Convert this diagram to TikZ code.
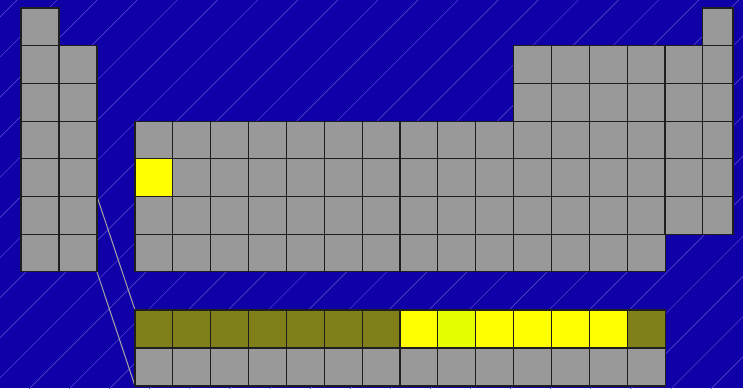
\documentclass[tikz,border=0pt]{standalone}
\definecolor{bg}{RGB}{16,0,168}
\definecolor{stripe}{RGB}{95,85,210}
\definecolor{cellgray}{RGB}{153,153,153}
\definecolor{olivecell}{RGB}{128,128,26}
\definecolor{limecell}{RGB}{229,255,0}
\definecolor{yellowcell}{RGB}{255,255,0}
\definecolor{edge}{RGB}{30,30,30}
\definecolor{guide}{RGB}{165,165,165}
\begin{document}
\begin{tikzpicture}[x=1pt,y=-1pt,
  cellbox/.style={fill=#1,draw=edge,line width=1.1pt},
  cellbox/.default=cellgray,
  stripeline/.style={draw=stripe,line width=0.45pt},
  guideline/.style={draw=guide,line width=1pt}]
\fill[bg] (0,0) rectangle (743,388);
\useasboundingbox (0,0) rectangle (743,388);
\begin{scope}
  \clip (0,0) rectangle (743,388);
  \foreach \k in {0,...,28} {
    \draw[stripeline] ({17+40.1*\k},0) -- ++(-420,420);
  }
\end{scope}
% guide lines
\coordinate (gA) at (97,196.5);
\coordinate (gB) at (97,271.9);
\coordinate (fA) at (135,310);
\coordinate (fB) at (135,386);
\draw[guideline] (gA) -- (fA);
\draw[guideline] (gB) -- (fB);
% left block
\foreach \j in {0,...,6} {
  \draw[cellbox] (21,{8+37.7*\j}) rectangle (59,{8+37.7*(\j+1)});
}
\foreach \j in {1,...,6} {
  \draw[cellbox] (59,{8+37.7*\j}) rectangle (97,{8+37.7*(\j+1)});
}
% main block rows 3-6, columns 0-13
\foreach \j in {3,...,6} {
  \foreach \i in {0,...,13} {
    \draw[cellbox] ({135+37.86*\i},{8+37.7*\j}) rectangle ({135+37.86*(\i+1)},{8+37.7*(\j+1)});
  }
}
% right block rows 1-2, columns 10-13
\foreach \j in {1,2} {
  \foreach \i in {10,...,13} {
    \draw[cellbox] ({135+37.86*\i},{8+37.7*\j}) rectangle ({135+37.86*(\i+1)},{8+37.7*(\j+1)});
  }
}
% column 14 rows 1-5
\foreach \j in {1,...,5} {
  \draw[cellbox] (665,{8+37.7*\j}) rectangle (702.9,{8+37.7*(\j+1)});
}
% last column rows 0-5
\foreach \j in {0,...,5} {
  \draw[cellbox] (702.9,{8+37.7*\j}) rectangle (733,{8+37.7*(\j+1)});
}
% highlighted cell
\draw[cellbox=yellowcell] (135,158.8) rectangle (172.86,196.5);
% f block
\foreach \i/\c in {0/olivecell,1/olivecell,2/olivecell,3/olivecell,4/olivecell,5/olivecell,6/olivecell,7/yellowcell,8/limecell,9/yellowcell,10/yellowcell,11/yellowcell,12/yellowcell,13/olivecell} {
  \draw[cellbox=\c] ({135+37.86*\i},310) rectangle ({135+37.86*(\i+1)},348);
  \draw[cellbox] ({135+37.86*\i},348) rectangle ({135+37.86*(\i+1)},386);
}
\end{tikzpicture}
\end{document}
